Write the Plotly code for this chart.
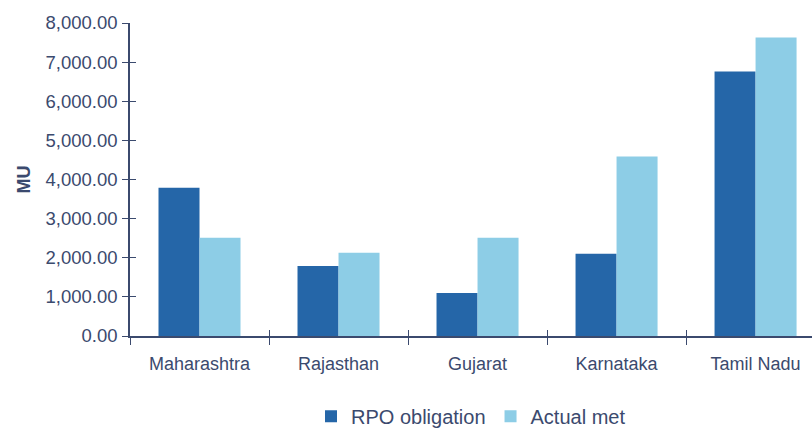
import plotly.graph_objects as go

states = ["Maharashtra", "Rajasthan", "Gujarat", "Karnataka", "Tamil Nadu"]
rpo_obligation = [3790, 1790, 1100, 2100, 6760]
actual_met = [2510, 2125, 2510, 4585, 7630]
y_ticks = [0, 1000, 2000, 3000, 4000, 5000, 6000, 7000, 8000]

AX = "#3B4A6E"
FONT = "Liberation Sans, Arial, sans-serif"

fig = go.Figure()
fig.add_trace(go.Bar(x=states, y=rpo_obligation, name="RPO obligation",
                     marker=dict(color="#2566A8", line=dict(width=0))))
fig.add_trace(go.Bar(x=states, y=actual_met, name="Actual met",
                     marker=dict(color="#8DCDE6", line=dict(width=0))))

xr = [-0.5, 4.406]
fig.update_layout(
    width=812, height=430,
    margin=dict(l=130, r=0, t=23, b=94, autoexpand=False),
    paper_bgcolor="white", plot_bgcolor="white",
    barmode="group", bargap=0.41, bargroupgap=0,
    font=dict(family=FONT, color=AX, size=18),
    xaxis=dict(range=xr, showline=True, linecolor=AX, linewidth=1.5,
               ticks="outside", tickson="boundaries", ticklen=7, tickcolor=AX, tickwidth=1.2,
               showgrid=False, zeroline=False, tickfont=dict(size=18, color=AX),
               ticklabelstandoff=11, automargin=False),
    yaxis=dict(range=[0, 8000], tickvals=y_ticks, tickformat=",.2f",
               showline=True, linecolor=AX, linewidth=1.5,
               ticks="outside", ticklen=6, tickcolor=AX, tickwidth=1.2,
               showgrid=False, zeroline=False, tickfont=dict(size=18.5, color=AX),
               ticklabelstandoff=1, automargin=False),
    xaxis2=dict(overlaying="x", range=xr, tickvals=[-0.5, 0.5, 1.5, 2.5, 3.5],
                ticks="inside", ticklen=6, tickcolor=AX, tickwidth=1.2,
                showticklabels=False, showgrid=False, zeroline=False, showline=False),
    yaxis2=dict(overlaying="y", range=[0, 8000], tickvals=y_ticks,
                ticks="inside", ticklen=6, tickcolor=AX, tickwidth=1.2,
                showticklabels=False, showgrid=False, zeroline=False, showline=False),
    legend=dict(orientation="h", x=0.5, xanchor="center", y=-0.256, yanchor="middle",
                font=dict(size=20, color=AX), itemwidth=30, traceorder="normal"),
    annotations=[dict(text="<b>MU</b>", textangle=-90, x=(23 - 130) / 682, xref="paper",
                      y=0.5, yref="paper", xanchor="center", yanchor="middle",
                      showarrow=False, font=dict(size=18, color=AX))],
)
fig.add_trace(go.Scatter(x=[0], y=[0], xaxis="x2", yaxis="y2", mode="markers",
                         marker=dict(opacity=0), showlegend=False, hoverinfo="skip"))

fig.write_html("out.html")
